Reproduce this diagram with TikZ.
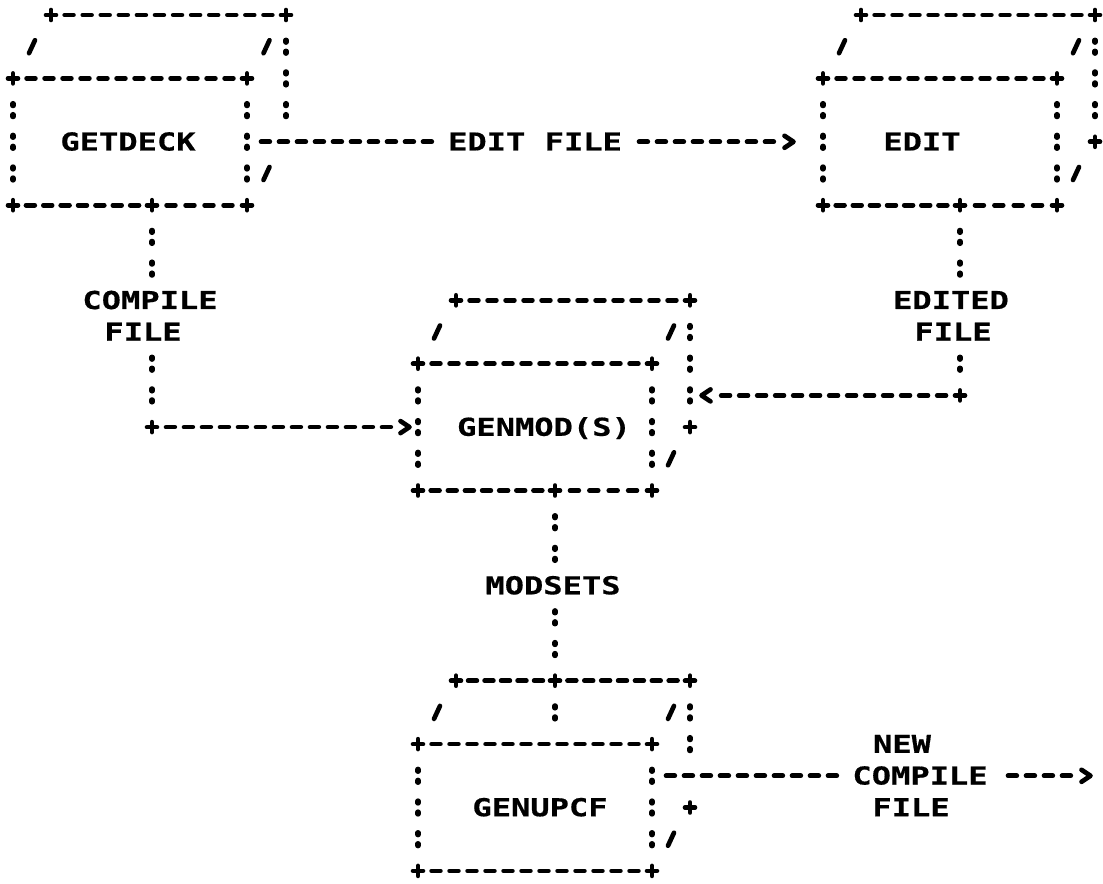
\documentclass[tikz,border=0pt]{standalone}
\usepackage{fontspec}
\newfontfamily\lpfont{DejaVu Sans Mono}[FakeStretch=1.3,FakeBold=0.6]
\newcommand\ry[1]{15+31.7*(#1)}
\tikzset{
  hd/.style={line width=3.5pt, line cap=round, dash pattern=on 6.6pt off 6.9pt},
  vc/.style={line width=4pt, line cap=round, dash pattern=on 1.5pt off 6.75pt on 1.5pt off 14.025pt},
  sl/.style={line width=3.5pt, line cap=round, line join=round},
  lbl/.style={font=\lpfont\bfseries\fontsize{18.5pt}{21pt}\selectfont, inner sep=0pt, anchor=base},
}
\newcommand\hseg[3]{%
  \pgfmathsetmacro\hpitch{(#2-#1)/max(1,round((#2-#1)/18))}%
  \pgfmathsetmacro\hoff{0.75*(\hpitch-8.8)}%
  \draw[hd, dash pattern=on 6.6pt off \hoff pt] ({#1+\hpitch-4.4},{\ry{#3}}) -- ({#2-\hpitch+4.4},{\ry{#3}});}
\newcommand\vcol[3]{\draw[vc] ({#1},{\ry{#2}-6.5}) -- ({#1},{\ry{#3}+6.5});}
\newcommand\plusmk[2]{\draw[sl] ({#1-5},{\ry{#2}}) -- ({#1+5},{\ry{#2}}) ({#1},{\ry{#2}-5}) -- ({#1},{\ry{#2}+5});}
\newcommand\slashmk[2]{\draw[sl] ({#1-3},{\ry{#2}+6.5}) -- ({#1+3},{\ry{#2}-6.5});}
\newcommand\chevr[2]{\draw[sl] ({#1-4.5},{\ry{#2}-6}) -- ({#1+4.5},{\ry{#2}}) -- ({#1-4.5},{\ry{#2}+6});}
\newcommand\chevl[2]{\draw[sl] ({#1+4.5},{\ry{#2}-6}) -- ({#1-4.5},{\ry{#2}}) -- ({#1+4.5},{\ry{#2}+6});}
% fL fR bL bR r0  (back-right colons only on rows r0+1, r0+2)
\newcommand\cube[5]{%
  \plusmk{#3}{#5}\plusmk{#4}{#5}%
  \slashmk{(#1+#3)/2}{#5+1}\slashmk{(#2+#4)/2}{#5+1}\slashmk{(#2+#4)/2}{#5+5}%
  \vcol{#4}{#5+1}{#5+2}%
  \plusmk{#1}{#5+2}\plusmk{#2}{#5+2}\hseg{#1}{#2}{#5+2}%
  \vcol{#1}{#5+3}{#5+5}\vcol{#2}{#5+3}{#5+5}%
  \plusmk{#1}{#5+6}\plusmk{#2}{#5+6}%
}
\begin{document}
\begin{tikzpicture}[x=0.75pt,y=-0.75pt]
\fill[white] (0,0) rectangle (1103,884);
\useasboundingbox (0,0) rectangle (1103,884);

% GETDECK
\cube{13}{247}{51}{286}{0}
\vcol{286}{3}{3}
\hseg{51}{286}{0}
\hseg{13}{152}{6}\hseg{152}{247}{6}
\node[lbl] (getdeck) at (128,{\ry{4}+8.7}) {GETDECK};

% EDIT
\cube{823}{1057}{861}{1095}{0}
\vcol{1095}{3}{3}
\hseg{861}{1095}{0}
\plusmk{1095}{4}
\hseg{823}{960}{6}\hseg{960}{1057}{6}
\node[lbl] (edit) at (922,{\ry{4}+8.7}) {EDIT};

% GENMOD(S)
\cube{418}{652}{456}{690}{9}
\vcol{690}{12}{12}
\hseg{456}{690}{9}
\plusmk{690}{13}
\hseg{418}{555}{15}\hseg{555}{652}{15}
\node[lbl] (genmod) at (544,{\ry{13}+8.7}) {GENMOD(S)};

% GENUPCF
\cube{418}{652}{456}{690}{21}
\hseg{456}{555}{21}\hseg{555}{690}{21}
\plusmk{690}{25}
\hseg{418}{652}{27}
\node[lbl] (genupcf) at (540,{\ry{25}+8.7}) {GENUPCF};

% connector: EDIT FILE
\coordinate (e1a) at (261,{\ry{4}});
\coordinate (e1b) at (432,{\ry{4}});
\coordinate (e1c) at (639,{\ry{4}});
\coordinate (e1d) at (774,{\ry{4}});
\node[lbl] (editfile) at (535,{\ry{4}+8.7}) {EDIT FILE};
\draw[hd] (e1a) -- (e1b) (e1c) -- (e1d);
\chevr{789}{4}

% connector: COMPILE FILE
\plusmk{152}{6}
\coordinate (c2a) at (152,{\ry{7}-6.5});
\coordinate (c2b) at (152,{\ry{8}+6.5});
\coordinate (c2c) at (152,{\ry{11}-6.5});
\coordinate (c2d) at (152,{\ry{12}+6.5});
\coordinate (c2e) at (166,{\ry{13}});
\coordinate (c2f) at (391,{\ry{13}});
\draw[vc] (c2a) -- (c2b) (c2c) -- (c2d);
\node[lbl] (cmp1) at (150,{\ry{9}+8.7}) {COMPILE};
\node[lbl] (fil1) at (143,{\ry{10}+8.7}) {FILE};
\plusmk{152}{13}
\draw[hd] (c2e) -- (c2f);
\chevr{405}{13}

% connector: EDITED FILE
\plusmk{960}{6}
\coordinate (c3a) at (960,{\ry{7}-6.5});
\coordinate (c3b) at (960,{\ry{8}+6.5});
\coordinate (c3c) at (960,{\ry{11}-6.5});
\coordinate (c3d) at (960,{\ry{11}+6.5});
\coordinate (c3e) at (946,{\ry{12}});
\coordinate (c3f) at (721,{\ry{12}});
\draw[vc] (c3a) -- (c3b) (c3c) -- (c3d);
\node[lbl] (edited) at (951,{\ry{9}+8.7}) {EDITED};
\node[lbl] (fil2) at (953,{\ry{10}+8.7}) {FILE};
\plusmk{960}{12}
\draw[hd] (c3e) -- (c3f);
\chevl{706}{12}

% connector: MODSETS
\plusmk{555}{15}
\coordinate (c4a) at (555,{\ry{16}-6.5});
\coordinate (c4b) at (555,{\ry{17}+6.5});
\coordinate (c4c) at (555,{\ry{19}-6.5});
\coordinate (c4d) at (555,{\ry{20}+6.5});
\coordinate (c4e) at (555,{\ry{22}-6.5});
\coordinate (c4f) at (555,{\ry{22}+6.5});
\draw[vc] (c4a) -- (c4b) (c4c) -- (c4d) (c4e) -- (c4f);
\node[lbl] (modsets) at (553,{\ry{18}+8.7}) {MODSETS};
\plusmk{555}{21}

% connector: NEW COMPILE FILE
\coordinate (c5a) at (666,{\ry{24}});
\coordinate (c5b) at (837,{\ry{24}});
\coordinate (c5c) at (1008,{\ry{24}});
\coordinate (c5d) at (1071,{\ry{24}});
\node[lbl] (new) at (902,{\ry{23}+8.7}) {NEW};
\node[lbl] (cmp2) at (920,{\ry{24}+8.7}) {COMPILE};
\node[lbl] (fil3) at (911,{\ry{25}+8.7}) {FILE};
\draw[hd] (c5a) -- (c5b) (c5c) -- (c5d);
\chevr{1086}{24}
\end{tikzpicture}
\end{document}
